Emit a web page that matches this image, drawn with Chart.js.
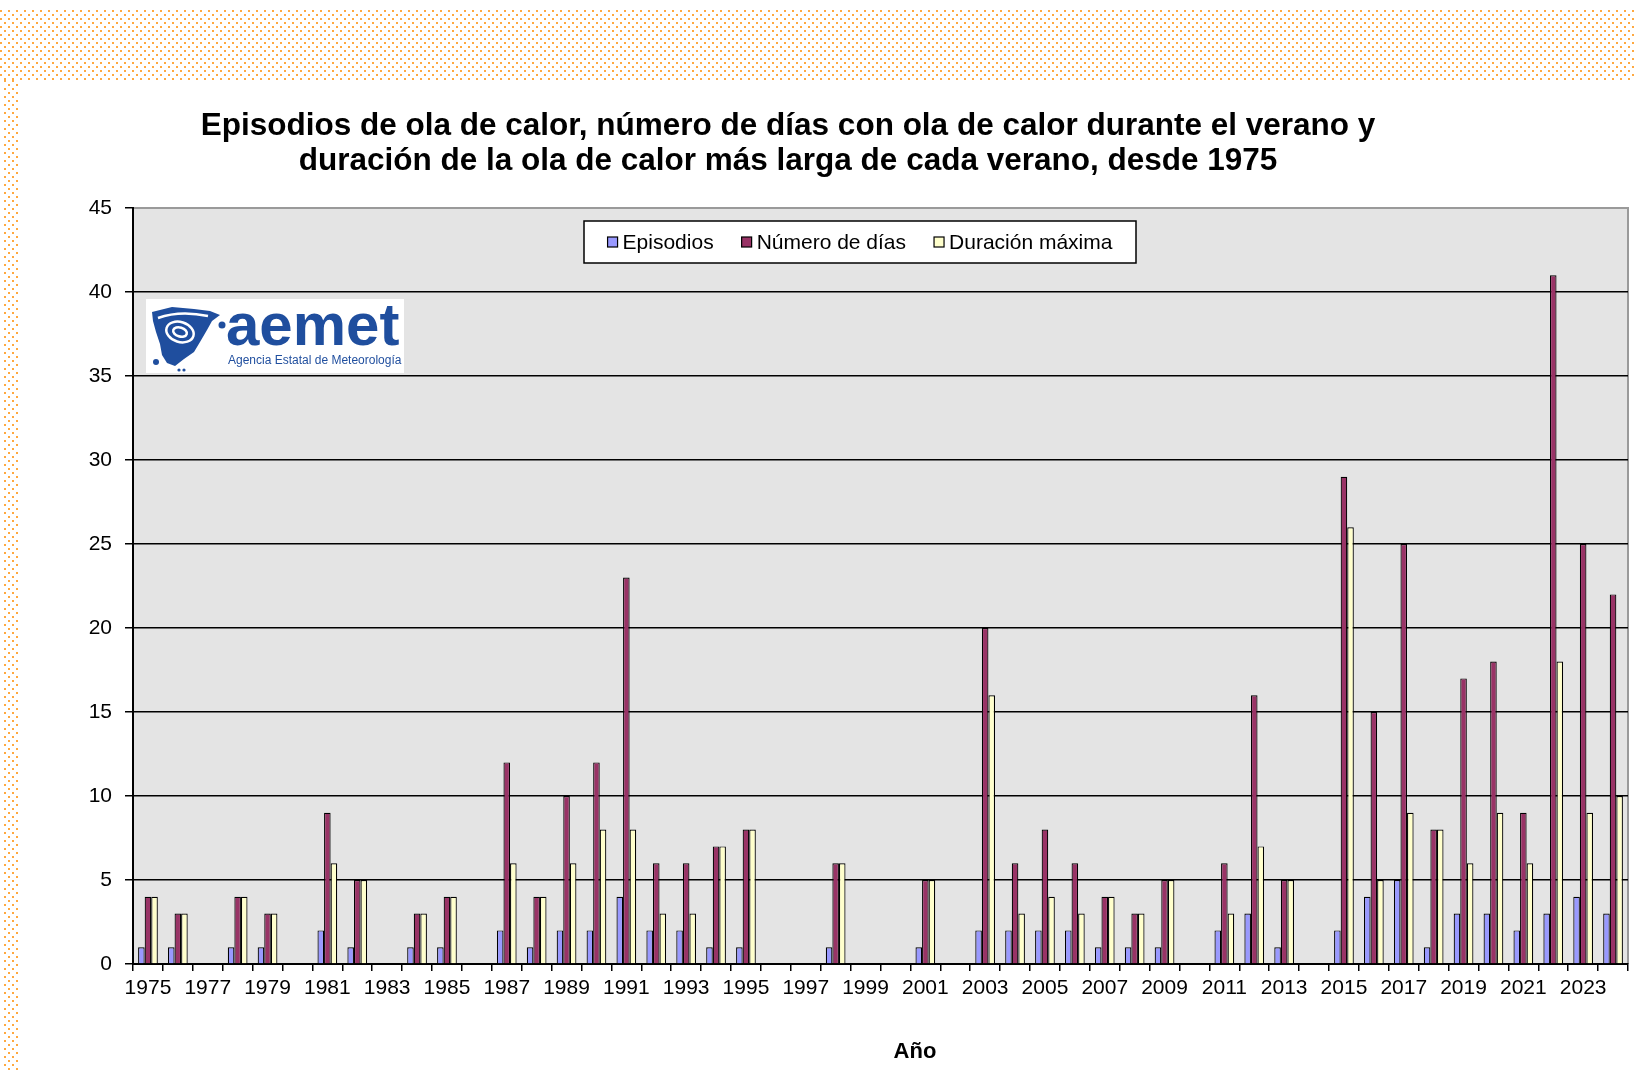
<!DOCTYPE html>
<html>
<head>
<meta charset="utf-8">
<script src="https://cdn.jsdelivr.net/npm/chart.js@4.4.1/dist/chart.umd.min.js"></script>
<style>
  html, body { margin:0; padding:0; background:#fff; width:1634px; height:1072px; overflow:hidden; }
  .dots {
    position:absolute;
    background-image: url("data:image/svg+xml;utf8,<svg xmlns='http://www.w3.org/2000/svg' width='8' height='8'><rect x='0' y='0' width='2' height='2' fill='%23FFA940'/><rect x='4' y='4' width='2' height='2' fill='%23FFA940'/></svg>");
    background-size: 8px 8px;
  }
  #top { left:0; top:10px; width:1634px; height:70px; }
  #side { left:4px; top:80px; width:16px; height:992px; }
  #wrap { position:absolute; left:20px; top:80px; width:1614px; height:992px; }
</style>
</head>
<body>
<div class="dots" id="top"></div>
<div class="dots" id="side"></div>
<div id="wrap"><canvas id="c" width="1614" height="992"></canvas></div>
<script>
const years = [1975,1976,1977,1978,1979,1980,1981,1982,1983,1984,1985,1986,1987,1988,1989,1990,1991,1992,1993,1994,1995,1996,1997,1998,1999,2000,2001,2002,2003,2004,2005,2006,2007,2008,2009,2010,2011,2012,2013,2014,2015,2016,2017,2018,2019,2020,2021,2022,2023,2024];
const episodios = [1,1,0,1,1,0,2,1,0,1,1,0,2,1,2,2,4,2,2,1,1,0,0,1,0,0,1,0,2,2,2,2,1,1,1,0,2,3,1,0,2,4,5,1,3,3,2,3,4,3];
const numeroDias = [4,3,0,4,3,0,9,5,0,3,4,0,12,4,10,12,23,6,6,7,8,0,0,6,0,0,5,0,20,6,8,6,4,3,5,0,6,16,5,0,29,15,25,8,17,18,9,41,25,22];
const duracionMax = [4,3,0,4,3,0,6,5,0,3,4,0,6,4,6,8,8,3,3,7,8,0,0,6,0,0,5,0,16,3,4,3,4,3,5,0,3,7,5,0,26,5,9,8,6,9,6,18,9,10];
const seriesNames = ['Episodios','Número de días','Duración máxima'];
const seriesColors = ['#9999FF','#993366','#FFFFCC'];
const titleLines = ['Episodios de ola de calor, número de días con ola de calor durante el verano y','duración de la ola de calor más larga de cada verano, desde 1975'];
const xAxisTitle = 'Año';
const yTicks = { min:0, max:45, step:5 };

const FONT = '"Liberation Sans", Arial, sans-serif';

const bgPlugin = {
  id:'bg',
  beforeDraw(chart){
    const {ctx, chartArea:a} = chart;
    ctx.save();
    ctx.fillStyle = '#fff';
    ctx.fillRect(0,0,chart.width,chart.height);
    ctx.fillStyle = '#E4E4E4';
    ctx.fillRect(a.left, a.top, a.right-a.left, a.bottom-a.top);
    ctx.strokeStyle = '#9a9a9a';
    ctx.lineWidth = 2;
    ctx.beginPath();
    ctx.moveTo(a.left, a.top);
    ctx.lineTo(a.right, a.top);
    ctx.lineTo(a.right, a.bottom);
    ctx.stroke();
    ctx.restore();
  }
};

function drawLogo(ctx){
  ctx.save();
  ctx.fillStyle = '#fff';
  ctx.fillRect(126, 219, 258, 74);
  const blue = '#1F4E9E';
  ctx.translate(130, 226);
  ctx.fillStyle = blue;
  ctx.beginPath();
  ctx.moveTo(2,6); ctx.lineTo(22,1); ctx.lineTo(44,3); ctx.lineTo(60,5); ctx.lineTo(70,9);
  ctx.lineTo(62,15); ctx.lineTo(57,24); ctx.lineTo(50,36); ctx.lineTo(44,46); ctx.lineTo(34,53);
  ctx.lineTo(25,60); ctx.lineTo(17,57); ctx.lineTo(12,49); ctx.lineTo(10,38); ctx.lineTo(6,26); ctx.lineTo(3,15);
  ctx.closePath(); ctx.fill();
  ctx.strokeStyle = '#fff'; ctx.lineWidth = 2.5;
  ctx.beginPath(); ctx.ellipse(30,26,14,10,0.3,0,Math.PI*2); ctx.stroke();
  ctx.beginPath(); ctx.ellipse(30,26,7,4.5,0.3,0,Math.PI*2); ctx.stroke();
  ctx.beginPath(); ctx.moveTo(8,12); ctx.quadraticCurveTo(30,4,58,10); ctx.stroke();
  ctx.fillStyle = blue;
  ctx.beginPath(); ctx.arc(72,19,3.5,0,Math.PI*2); ctx.fill();
  ctx.beginPath(); ctx.arc(6,56,3,0,Math.PI*2); ctx.fill();
  ctx.beginPath(); ctx.arc(29,64,1.6,0,Math.PI*2); ctx.fill();
  ctx.beginPath(); ctx.arc(34,64,1.6,0,Math.PI*2); ctx.fill();
  ctx.setTransform(1,0,0,1,0,0);
  ctx.fillStyle = blue;
  ctx.textAlign = 'left'; ctx.textBaseline = 'alphabetic';
  ctx.font = 'bold 60px ' + FONT;
  ctx.fillText('aemet', 206, 265);
  ctx.font = '12px ' + FONT;
  ctx.fillText('Agencia Estatal de Meteorología', 208, 284);
  ctx.restore();
}

const overlayPlugin = {
  id:'overlay',
  afterDraw(chart){
    const ctx = chart.ctx;
    ctx.save();
    ctx.fillStyle = '#000';
    ctx.textAlign = 'center'; ctx.textBaseline = 'middle';
    ctx.font = 'bold 31.5px ' + FONT;
    ctx.fillText(titleLines[0], 768, 46);
    ctx.fillText(titleLines[1], 768, 81);
    ctx.font = 'bold 22px ' + FONT;
    ctx.fillText(xAxisTitle, 895, 972);
    const bx = 564, by = 141, bw = 552, bh = 42;
    ctx.fillStyle = '#fff';
    ctx.fillRect(bx, by, bw, bh);
    ctx.strokeStyle = '#000'; ctx.lineWidth = 1.5;
    ctx.strokeRect(bx, by, bw, bh);
    ctx.font = '21px ' + FONT;
    ctx.textAlign = 'left';
    const sq = 10, gapSq = 5, gapItem = 28;
    const widths = chart.data.datasets.map(d => sq + gapSq + ctx.measureText(d.label).width);
    const total = widths.reduce((s,w)=>s+w,0) + gapItem*(widths.length-1);
    let x = bx + bw/2 - total/2;
    const cy = by + bh/2;
    chart.data.datasets.forEach((d,i) => {
      ctx.fillStyle = d.backgroundColor;
      ctx.fillRect(x, cy-5, sq, sq);
      ctx.strokeStyle = '#000'; ctx.lineWidth = 1.2;
      ctx.strokeRect(x, cy-5, sq, sq);
      ctx.fillStyle = '#000';
      ctx.fillText(d.label, x + sq + gapSq, cy+1);
      x += widths[i] + gapItem;
    });
    drawLogo(ctx);
    ctx.restore();
  }
};

const mk = (label, data, color) => ({
  label, data, backgroundColor: color, borderColor:'#000', borderWidth:1.2,
  categoryPercentage:0.66, barPercentage:1.0
});

new Chart(document.getElementById('c').getContext('2d'), {
  type:'bar',
  data:{
    labels: years.map(String),
    datasets:[
      mk(seriesNames[0], episodios, seriesColors[0]),
      mk(seriesNames[1], numeroDias, seriesColors[1]),
      mk(seriesNames[2], duracionMax, seriesColors[2])
    ]
  },
  options:{
    responsive:false,
    animation:false,
    devicePixelRatio:1,
    layout:{ padding:{ left:0, top:128, right:6, bottom:0 } },
    plugins:{ legend:{display:false}, title:{display:false}, tooltip:{enabled:false} },
    scales:{
      x:{
        type:'category',
        grid:{ offset:true, drawOnChartArea:false, drawTicks:true, tickLength:7, color:'#000', lineWidth:1.5 },
        border:{ color:'#000', width:2 },
        ticks:{ autoSkip:false, maxRotation:0, minRotation:0, color:'#000', padding:5,
          font:{ family:FONT, size:21 },
          callback:(v,i) => i % 2 === 0 ? String(years[i]) : '' },
        afterFit(s){ s.height = 108; }
      },
      y:{
        min:yTicks.min, max:yTicks.max,
        grid:{ color:(c) => (c.tick && c.tick.value === yTicks.max) ? '#9a9a9a' : '#000', lineWidth:1.5, tickLength:8, tickColor:'#000' },
        border:{ color:'#000', width:2 },
        ticks:{ stepSize:yTicks.step, color:'#000', padding:13, font:{ family:FONT, size:21 } },
        afterFit(s){ s.width = 113; }
      }
    }
  },
  plugins:[bgPlugin, overlayPlugin]
});
</script>
</body>
</html>
